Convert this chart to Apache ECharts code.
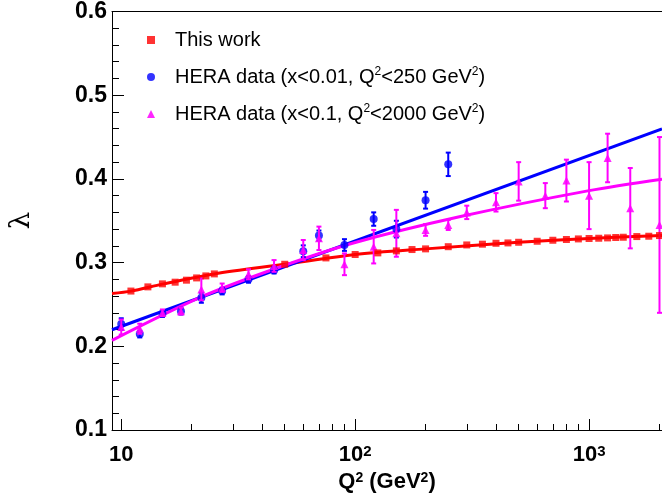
<!DOCTYPE html>
<html>
<head>
<meta charset="utf-8">
<script src="https://cdn.jsdelivr.net/npm/echarts@6/dist/echarts.min.js"></script>
<style>html,body{margin:0;padding:0;background:#fff}#c{width:662px;height:502px}</style>
</head>
<body>
<div id="c"></div>
<script>
// ---- data ----
const thisWorkQ2 = [11,13,15,17,19,21,23,25,50,75,100,125,150,175,200,250,300,350,400,450,500,600,700,800,900,1000,1100,1200,1300,1400,1600,1800,2000];
const thisWorkLambda = [0.266,0.271,0.2746,0.2766,0.279,0.2817,0.2841,0.2865,0.298,0.3056,0.3097,0.3116,0.314,0.3156,0.3164,0.319,0.3211,0.322,0.3231,0.3235,0.3243,0.3255,0.3267,0.3276,0.3283,0.3288,0.3291,0.3295,0.330,0.3303,0.3311,0.3315,0.3323];

const hera1Q2 = [10,12,15,18,22,27,35,45,60,70,90,120,150,200,250];
const hera1Lambda = [0.2265,0.2146,0.239,0.242,0.258,0.266,0.280,0.291,0.3136,0.3323,0.321,0.352,0.340,0.3745,0.4174];
const hera1Err = [0.007,0.004,0.004,0.004,0.006,0.004,0.004,0.004,0.007,0.006,0.007,0.008,0.010,0.010,0.014];

const hera2Q2 = [10,12,15,18,22,27,35,45,60,70,90,120,150,200,250,300,400,500,650,800,1000,1200,1500,2000];
const hera2Lambda = [0.223,0.221,0.240,0.242,0.268,0.270,0.286,0.296,0.315,0.329,0.298,0.319,0.335,0.339,0.345,0.360,0.372,0.397,0.380,0.398,0.380,0.425,0.365,0.345];
const hera2Err = [0.009,0.006,0.004,0.004,0.013,0.005,0.006,0.007,0.012,0.014,0.013,0.020,0.028,0.007,0.006,0.008,0.011,0.023,0.015,0.025,0.040,0.029,0.048,0.105];

const redFitQ2 = [9.13,11,15,25,50,100,200,500,1000,2050];
const redFitLambda = [0.263,0.2659,0.2743,0.2865,0.298,0.3097,0.3164,0.3243,0.3288,0.3325];
const blueFitQ2 = [9.13,2050];
const blueFitLambda = [0.2198,0.4597];
const magFitQ2 = [9.13,22,48,100,282,1000,2050];
const magFitLambda = [0.2071,0.259,0.295,0.324,0.355,0.386,0.3997];

const xMajorTicks = [10,100,1000];
const xMinorTicks = [20,30,40,50,60,70,80,90,200,300,400,500,600,700,800,900,2000];
const xTickLabels = ['10','10{sup|2}','10{sup|3}'];

const names = ['This work','HERA data (x<0.01, Q2<250 GeV2)','HERA data (x<0.1, Q2<2000 GeV2)'];
const legendText = ['This work','HERA data (x<0.01, Q{sup|2}<250 GeV{sup|2})','HERA data (x<0.1, Q{sup|2}<2000 GeV{sup|2})'];

// ---- build ----
const zip = (a,b)=>a.map((v,i)=>[v,b[i]]);
const errData = (q,l,e)=>q.map((v,i)=>[v,l[i]-e[i],l[i]+e[i]]);
function errRender(color){
  return function(params, api){
    const x = api.value(0), lo = api.value(1), hi = api.value(2);
    const a = api.coord([x,lo]), b = api.coord([x,hi]);
    const c = 2.5, st = {stroke:color, lineWidth:2};
    return {type:'group', children:[
      {type:'line', shape:{x1:a[0],y1:a[1],x2:b[0],y2:b[1]}, style:st},
      {type:'line', shape:{x1:a[0]-c,y1:a[1],x2:a[0]+c,y2:a[1]}, style:st},
      {type:'line', shape:{x1:b[0]-c,y1:b[1],x2:b[0]+c,y2:b[1]}, style:st}
    ]};
  };
}
const FONT = 'Liberation Sans, Arial, sans-serif';
const RED='#ff0000', BLUE='#0000ff', MAG='#ff00ff';
const xMin = 9.13, xMax = 2050;

const chart = echarts.init(document.getElementById('c'));
chart.setOption({
  animation:false,
  backgroundColor:'#fff',
  grid:{left:110, top:11, right:0, bottom:72, containLabel:false},
  legend:{
    orient:'vertical', left:142, top:24, padding:5, itemWidth:8, itemHeight:8, itemGap:15,
    selectedMode:false,
    data:[{name:names[0], icon:'rect'},{name:names[1], icon:'circle'},{name:names[2], icon:'triangle'}],
    formatter:function(n){ return legendText[names.indexOf(n)]; },
    textStyle:{fontFamily:FONT, fontSize:20, color:'#000', lineHeight:22, padding:[0,0,0,15],
      rich:{sup:{fontSize:12, fontFamily:FONT, verticalAlign:'top', lineHeight:14}}}
  },
  xAxis:[
    {type:'log', logBase:10, min:xMin, max:xMax, position:'bottom',
     axisLine:{show:true, lineStyle:{color:'#000', width:1}},
     axisTick:{show:true, inside:true, length:11, customValues:xMajorTicks, lineStyle:{color:'#000'}},
     axisLabel:{show:true, customValues:xMajorTicks, margin:14,
       formatter:function(v){ const i = xMajorTicks.indexOf(Math.round(v)); return i>=0 ? xTickLabels[i] : ''; },
       fontFamily:FONT, fontSize:22, fontWeight:'bold', color:'#000',
       rich:{sup:{fontSize:15, fontWeight:'bold', fontFamily:FONT, verticalAlign:'top', lineHeight:13}}},
     splitLine:{show:false}, minorTick:{show:false},
     name:'Q{sup|2} (GeV{sup|2})', nameLocation:'middle', nameGap:40,
     nameTextStyle:{fontFamily:FONT, fontSize:22, fontWeight:'bold', color:'#000',
       rich:{sup:{fontSize:14, fontWeight:'bold', fontFamily:FONT, verticalAlign:'top', lineHeight:14}}}
    },
    {type:'log', logBase:10, min:xMin, max:xMax, position:'bottom',
     axisLine:{show:false},
     axisTick:{show:true, inside:true, length:6, customValues:xMinorTicks, lineStyle:{color:'#000'}},
     axisLabel:{show:false}, splitLine:{show:false}},
    {type:'log', logBase:10, min:xMin, max:xMax, position:'top',
     axisLine:{show:true, lineStyle:{color:'#000', width:1}},
     axisTick:{show:false}, axisLabel:{show:false}, splitLine:{show:false}}
  ],
  yAxis:{type:'value', min:0.1, max:0.6, interval:0.1,
    axisLine:{show:true, lineStyle:{color:'#000', width:1}},
    axisTick:{show:true, inside:true, length:12, lineStyle:{color:'#000'}},
    minorTick:{show:true, splitNumber:5, length:7, lineStyle:{color:'#000'}},
    axisLabel:{formatter:function(v){return v.toFixed(1);}, margin:5, fontFamily:FONT, fontSize:23, fontWeight:'bold', color:'#000'},
    splitLine:{show:false},
    name:'λ', nameLocation:'middle', nameRotate:90, nameGap:76,
    nameTextStyle:{fontFamily:'DejaVu Serif, Liberation Serif, serif', fontSize:28, color:'#000'}
  },
  series:[
    {name:'fitRed', type:'line', xAxisIndex:0, data:zip(redFitQ2,redFitLambda), showSymbol:false, smooth:0.3,
     lineStyle:{color:RED, width:3}, silent:true, z:2},
    {name:'fitBlue', type:'line', xAxisIndex:0, data:zip(blueFitQ2,blueFitLambda), showSymbol:false,
     lineStyle:{color:BLUE, width:3}, silent:true, z:2},
    {name:'fitMag', type:'line', xAxisIndex:0, data:zip(magFitQ2,magFitLambda), showSymbol:false, smooth:0.3,
     lineStyle:{color:MAG, width:3}, silent:true, z:2},
    {name:'errBlue', type:'custom', xAxisIndex:0, renderItem:errRender(BLUE), data:errData(hera1Q2,hera1Lambda,hera1Err),
     encode:{x:0, y:[1,2]}, z:3, silent:true},
    {name:names[1], type:'scatter', xAxisIndex:0, data:zip(hera1Q2,hera1Lambda), symbol:'circle', symbolSize:8,
     itemStyle:{color:BLUE}, z:4},
    {name:'errMag', type:'custom', xAxisIndex:0, renderItem:errRender(MAG), data:errData(hera2Q2,hera2Lambda,hera2Err),
     encode:{x:0, y:[1,2]}, z:5, silent:true},
    {name:names[2], type:'scatter', xAxisIndex:0, data:zip(hera2Q2,hera2Lambda), symbol:'triangle', symbolSize:8,
     itemStyle:{color:MAG, opacity:0.85}, z:6},
    {name:names[0], type:'scatter', xAxisIndex:0, data:zip(thisWorkQ2,thisWorkLambda), symbol:'rect', symbolSize:7,
     itemStyle:{color:RED}, z:7}
  ]
});
</script>
</body>
</html>
